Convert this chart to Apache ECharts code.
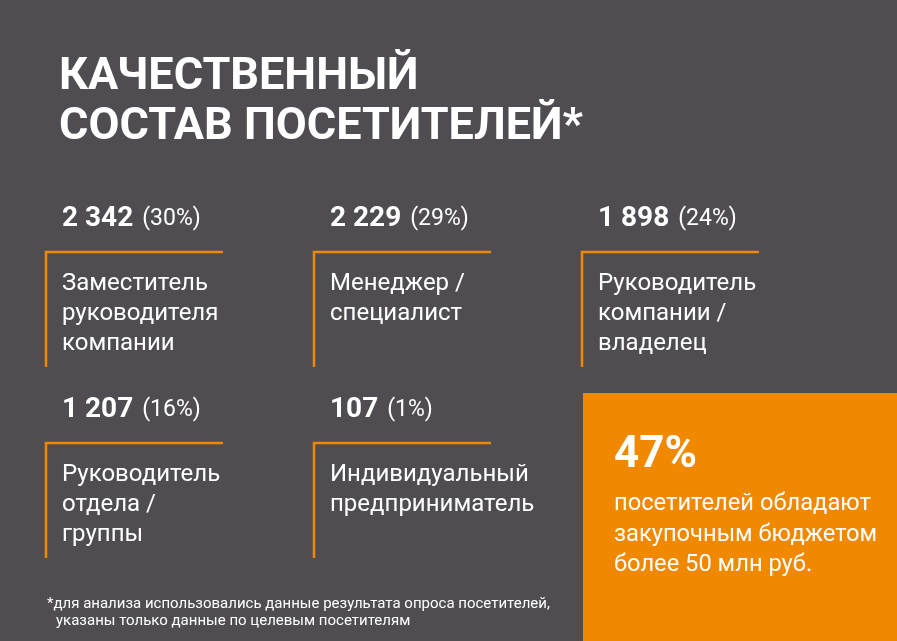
<!DOCTYPE html>
<html>
<head>
<meta charset="utf-8">
<script src="https://cdn.jsdelivr.net/npm/echarts@6/dist/echarts.min.js"></script>
<style>
html,body{margin:0;padding:0;background:#4f4d52;}
#main{width:897px;height:641px;}
</style>
</head>
<body>
<div id="main"></div>
<script>
// ---- data ----
const titleLines = ['КАЧЕСТВЕННЫЙ', 'СОСТАВ ПОСЕТИТЕЛЕЙ*'];
const counts = [2342, 2229, 1898, 1207, 107];
const percents = [30, 29, 24, 16, 1];
const roles = [
  'Заместитель\nруководителя\nкомпании',
  'Менеджер /\nспециалист',
  'Руководитель\nкомпании /\nвладелец',
  'Руководитель\nотдела /\nгруппы',
  'Индивидуальный\nпредприниматель'
];
const highlightPercent = 47;
const highlightText = 'посетителей обладают\nзакупочным бюджетом\nболее 50 млн руб.';
const footnoteLines = ['*для анализа использовались данные результата опроса посетителей,', 'указаны только данные по целевым посетителям'];

// ---- layout ----
const BG = '#4f4d52';
const ORANGE = '#f08800';
const FONT = 'Roboto, "Noto Sans", sans-serif';
const colX = [46, 314, 582];
const rowY = [252, 443];

function fmt(n) {
  return String(n).replace(/\B(?=(\d{3})+(?!\d))/g, ' ');
}

const elements = [];
// title
titleLines.forEach((t, i) => {
  elements.push({
    type: 'text', x: 59, y: 78 + i * 50,
    style: { text: t, fill: '#fff', font: 'bold 45px ' + FONT, verticalAlign: 'middle' }
  });
});

counts.forEach((c, i) => {
  const x = colX[i % 3];
  const y = rowY[Math.floor(i / 3)];
  // orange bracket
  elements.push({
    type: 'polyline',
    shape: { points: [[x + 177, y], [x, y], [x, y + 115]] },
    style: { stroke: ORANGE, lineWidth: 2.5, fill: null }
  });
  // number + percent
  elements.push({
    type: 'text', x: x + 16, y: y - 33,
    style: {
      text: '{n|' + fmt(c) + '}{p|(' + percents[i] + '%)}',
      verticalAlign: 'middle',
      rich: {
        n: { fill: '#fff', fontFamily: FONT, fontWeight: 'bold', fontSize: 28, padding: [0, 9, 0, 0] },
        p: { fill: '#fff', fontFamily: FONT, fontSize: 23 }
      }
    }
  });
  // role text
  elements.push({
    type: 'text', x: x + 16, y: y + 17,
    style: {
      text: roles[i], fill: '#fff', fontFamily: FONT, fontSize: 24,
      lineHeight: 30, verticalAlign: 'top'
    }
  });
});

// highlight box
elements.push({
  type: 'rect', shape: { x: 583, y: 393, width: 320, height: 260 },
  style: { fill: ORANGE }
});
elements.push({
  type: 'text', x: 614, y: 456,
  style: { text: highlightPercent + '%', fill: '#fff', fontFamily: FONT, fontWeight: 'bold', fontSize: 44, verticalAlign: 'middle' }
});
elements.push({
  type: 'text', x: 614, y: 489,
  style: { text: highlightText, fill: '#fff', fontFamily: FONT, fontSize: 23.7, lineHeight: 30.5, verticalAlign: 'top' }
});

// footnote
elements.push({
  type: 'text', x: 47, y: 604,
  style: { text: footnoteLines[0], fill: '#fff', fontFamily: FONT, fontSize: 15, verticalAlign: 'middle' }
});
elements.push({
  type: 'text', x: 56, y: 621,
  style: { text: footnoteLines[1], fill: '#fff', fontFamily: FONT, fontSize: 15, verticalAlign: 'middle' }
});

const chart = echarts.init(document.getElementById('main'), null, { renderer: 'canvas' });
chart.setOption({
  backgroundColor: BG,
  animation: false,
  graphic: { elements: elements }
});
</script>
</body>
</html>
